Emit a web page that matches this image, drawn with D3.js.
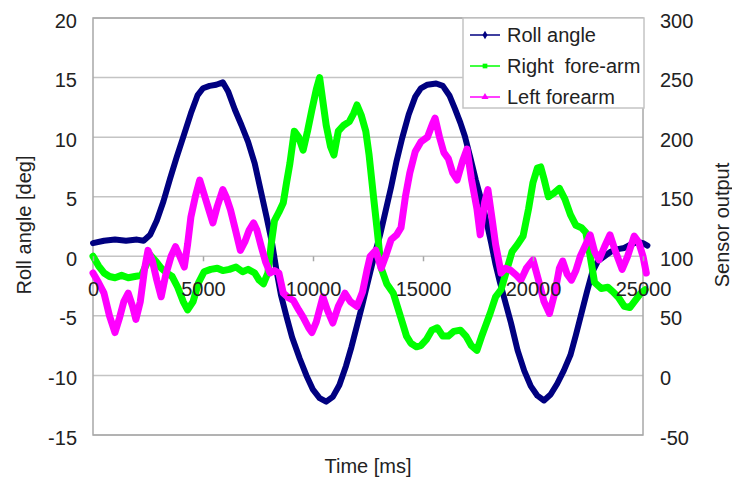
<!DOCTYPE html>
<html>
<head>
<meta charset="utf-8">
<script src="https://cdn.jsdelivr.net/npm/d3@7"></script>
<style>
  body { margin: 0; background: #fff; }
  svg { font-family: "Liberation Sans", Arial, sans-serif; }
  .tick text { fill: #222; font-size: 20px; }
</style>
</head>
<body>
<div class="container"></div>
<script>
// tick labels
const xTicks = [0, 5000, 10000, 15000, 20000, 25000]
const leftTicks = [-15, -10, -5, 0, 5, 10, 15, 20]
const rightTicks = [-50, 0, 50, 100, 150, 200, 250, 300]
const seriesNames = ['Roll angle', 'Right\u00a0 fore-arm', 'Left forearm']

// Roll angle [deg] (left axis)
const rollTime = [0, 500, 1000, 1500, 2000, 2300, 2600, 2900, 3200, 3500, 3800, 4100, 4450, 4750, 5000, 5300, 5600, 5900, 6150, 6450, 6750, 7050, 7350, 7650, 7900, 8150, 8350, 8550, 8800, 9050, 9400, 9700, 10000, 10300, 10600, 10900, 11200, 11500, 11750, 12000, 12250, 12500, 12750, 13050, 13300, 13550, 13800, 14050, 14350, 14650, 14900, 15200, 15600, 15900, 16200, 16450, 16700, 16900, 17150, 17400, 17650, 17850, 18100, 18300, 18500, 18750, 19000, 19300, 19600, 19900, 20200, 20500, 20800, 21100, 21400, 21700, 21950, 22200, 22450, 22700, 22950, 23250, 23550, 23850, 24150, 24450, 24750, 25000, 25200]
const rollDeg = [1.1, 1.3, 1.4, 1.3, 1.4, 1.3, 1.8, 3.0, 4.6, 6.5, 8.3, 10.0, 12.0, 13.5, 14.1, 14.3, 14.4, 14.6, 13.8, 12.3, 11.0, 9.6, 7.8, 5.3, 3.2, 1.0, -1.3, -3.3, -5.1, -6.8, -8.6, -10.0, -11.2, -11.9, -12.2, -11.8, -10.8, -9.2, -7.6, -5.8, -4.0, -2.1, -0.2, 1.8, 3.8, 5.8, 8.0, 9.9, 11.9, 13.4, 14.1, 14.4, 14.5, 14.3, 13.5, 12.4, 11.2, 10.1, 8.3, 6.4, 4.7, 3.2, 1.1, -0.7, -2.2, -3.9, -5.6, -7.9, -9.6, -10.9, -11.7, -12.1, -11.6, -10.7, -9.6, -8.3, -6.6, -4.8, -3.0, -1.3, -0.4, 0.0, 0.4, 0.6, 0.7, 1.0, 1.2, 1.1, 0.9]

// Right fore-arm sensor output (right axis)
const rightTime = [0, 250, 500, 750, 1000, 1300, 1600, 1900, 2200, 2400, 2600, 2850, 3100, 3350, 3600, 3850, 4100, 4300, 4550, 4800, 5050, 5350, 5650, 5900, 6200, 6500, 6800, 7050, 7350, 7550, 7750, 7950, 8100, 8250, 8450, 8650, 8800, 8950, 9150, 9350, 9550, 9750, 9950, 10150, 10300, 10450, 10600, 10800, 10950, 11150, 11400, 11650, 11850, 12000, 12200, 12400, 12550, 12750, 12900, 13100, 13350, 13650, 13850, 14050, 14250, 14450, 14700, 14900, 15150, 15400, 15650, 15900, 16150, 16400, 16700, 16950, 17200, 17450, 17650, 17850, 18050, 18300, 18550, 18800, 19050, 19300, 19550, 19800, 20000, 20200, 20350, 20500, 20700, 20950, 21200, 21450, 21700, 21950, 22200, 22400, 22600, 22800, 23100, 23400, 23650, 23900, 24150, 24400, 24650, 24900, 25100]
const rightOut = [100, 92, 86, 83, 82, 84, 82, 83, 84, 92, 101, 96, 90, 86, 83, 74, 62, 55, 62, 78, 87, 89, 90, 88, 89, 91, 87, 89, 86, 80, 77, 86, 110, 130, 137, 145, 162, 178, 205, 200, 189, 205, 223, 240, 250, 230, 210, 192, 185, 205, 210, 213, 220, 227, 218, 205, 185, 150, 125, 90, 77, 69, 57, 45, 33, 27, 24, 25, 30, 38, 40, 33, 33, 37, 38, 33, 25, 21, 32, 42, 52, 66, 72, 88, 104, 110, 117, 140, 162, 174, 175, 165, 150, 153, 157, 148, 135, 126, 124, 120, 100, 78, 73, 74, 70, 65, 58, 57, 63, 69, 72]

// Left forearm sensor output (right axis)
const leftTime = [0, 250, 500, 750, 1000, 1200, 1400, 1600, 1800, 1950, 2150, 2350, 2500, 2700, 2900, 3100, 3300, 3550, 3750, 3900, 4150, 4300, 4450, 4650, 4850, 5050, 5250, 5450, 5650, 5900, 6050, 6250, 6450, 6700, 6900, 7100, 7300, 7450, 7650, 7850, 8050, 8250, 8450, 8650, 8900, 9100, 9350, 9550, 9800, 9950, 10150, 10450, 10650, 10900, 11150, 11450, 11700, 12000, 12250, 12450, 12600, 12850, 13100, 13300, 13550, 13800, 14000, 14200, 14400, 14650, 14900, 15200, 15450, 15550, 15750, 15950, 16150, 16350, 16550, 16800, 17000, 17200, 17450, 17600, 17800, 17950, 18150, 18300, 18550, 18750, 19000, 19250, 19450, 19700, 20000, 20250, 20500, 20750, 21000, 21200, 21350, 21550, 21750, 21950, 22150, 22400, 22600, 22800, 23000, 23250, 23500, 23750, 24050, 24300, 24600, 24800, 25000, 25150]
const leftOut = [86, 78, 69, 50, 36, 48, 62, 69, 58, 47, 62, 90, 105, 96, 80, 66, 84, 100, 108, 102, 91, 110, 133, 150, 164, 152, 140, 128, 142, 156, 150, 139, 124, 105, 112, 122, 128, 122, 108, 95, 86, 88, 86, 69, 65, 63, 55, 49, 40, 36, 45, 66, 55, 44, 58, 69, 62, 58, 70, 88, 100, 105, 90, 100, 114, 118, 124, 150, 170, 188, 196, 200, 212, 216, 200, 187, 182, 170, 164, 180, 190, 165, 140, 118, 145, 156, 130, 110, 86, 90, 88, 84, 80, 90, 97, 80, 62, 52, 70, 90, 96, 85, 80, 88, 100, 110, 118, 104, 97, 108, 118, 104, 89, 100, 117, 112, 100, 86]

const colors = ['#000080', '#00ff00', '#ff00ff']

let margin = { top: 18, left: 93, bottom: 45, right: 89 }
const width = 732 - margin.left - margin.right
const height = 480 - margin.top - margin.bottom

const svg = d3.select('.container').append('svg')
    .attr('width', 732)
    .attr('height', 480)
const g = svg.append('g')
    .attr('transform', `translate(${margin.left},${margin.top})`)

const x = d3.scaleLinear().domain([0, 25000]).range([0, width])
const yL = d3.scaleLinear().domain([-15, 20]).range([height, 0])
const yR = d3.scaleLinear().domain([-50, 300]).range([height, 0])

// plain labels with hyphen minus, no thousands separator
const plain = d => String(d)

// gridlines
g.selectAll('.grid')
    .data(leftTicks)
    .enter()
    .append('line')
    .attr('x1', 0).attr('x2', width)
    .attr('y1', d => yL(d)).attr('y2', d => yL(d))
    .attr('stroke', '#c4c4c4')
    .attr('stroke-width', 1.5)

// plot border
g.append('rect')
    .attr('width', width).attr('height', height)
    .attr('fill', 'none')
    .attr('stroke', '#a8a8a8')
    .attr('stroke-width', 1.5)

// left axis
const leftAxis = g.append('g')
    .call(d3.axisLeft(yL).tickValues(leftTicks).tickFormat(plain).tickSize(0).tickPadding(16))
leftAxis.select('.domain').remove()
leftAxis.selectAll('text').attr('dy', '0.45em')

// right axis
const rightAxis = g.append('g')
    .attr('transform', `translate(${width},0)`)
    .call(d3.axisRight(yR).tickValues(rightTicks).tickFormat(plain).tickSize(0).tickPadding(17))
rightAxis.select('.domain').remove()
rightAxis.selectAll('text').attr('dy', '0.45em')

// series
const series = [
    { pts: d3.zip(rollTime, rollDeg), y: yL },
    { pts: d3.zip(rightTime, rightOut), y: yR },
    { pts: d3.zip(leftTime, leftOut), y: yR }
]
series.forEach((s, i) => {
    const line = d3.line().x(d => x(d[0])).y(d => s.y(d[1]))
    g.append('path')
        .datum(s.pts)
        .attr('d', line)
        .attr('fill', 'none')
        .attr('stroke', colors[i])
        .attr('stroke-width', i === 0 ? 6 : 7)
        .attr('stroke-linejoin', 'round')
        .attr('stroke-linecap', 'round')
})

// x axis at zero, labels drawn over the lines
const xAxis = g.append('g')
    .attr('transform', `translate(0,${yL(0)})`)
    .call(d3.axisBottom(x).tickValues(xTicks).tickFormat(plain).tickSize(5).tickPadding(21))
xAxis.select('.domain').remove()
xAxis.selectAll('line').attr('stroke', '#a8a8a8').attr('stroke-width', 1.5)
xAxis.selectAll('text').attr('fill', '#333')

// axis titles
svg.append('text')
    .attr('transform', 'translate(31,225) rotate(-90)')
    .attr('text-anchor', 'middle')
    .style('font-size', '20px')
    .attr('fill', '#222')
    .text('Roll angle [deg]')
svg.append('text')
    .attr('transform', 'translate(729,225) rotate(-90)')
    .attr('text-anchor', 'middle')
    .style('font-size', '20px')
    .attr('fill', '#222')
    .text('Sensor output')
svg.append('text')
    .attr('x', 368).attr('y', 473)
    .attr('text-anchor', 'middle')
    .style('font-size', '20px')
    .attr('fill', '#222')
    .text('Time [ms]')

// legend
const legend = svg.append('g').attr('id', 'legend')
legend.append('rect')
    .attr('x', 463).attr('y', 18)
    .attr('width', 181).attr('height', 90)
    .attr('fill', '#fff')
    .attr('stroke', '#c4c4c4')
    .attr('stroke-width', 1.5)

const rows = legend.selectAll('.legend-row')
    .data(seriesNames)
    .enter()
    .append('g')
    .attr('class', 'legend-row')
    .attr('transform', (d, i) => `translate(0,${35 + i * 31})`)
rows.append('line')
    .attr('x1', 470).attr('x2', 500)
    .attr('stroke', (d, i) => colors[i])
    .attr('stroke-width', 1.5)
rows.append('path')
    .attr('transform', 'translate(485,0)')
    .attr('d', (d, i) => d3.symbol()
        .type([d3.symbolDiamond, d3.symbolSquare, d3.symbolTriangle][i])
        .size(22)())
    .attr('fill', (d, i) => colors[i])
rows.append('text')
    .attr('x', 507).attr('y', 7)
    .style('font-size', '20px')
    .attr('fill', '#222')
    .text(d => d)
</script>
</body>
</html>
